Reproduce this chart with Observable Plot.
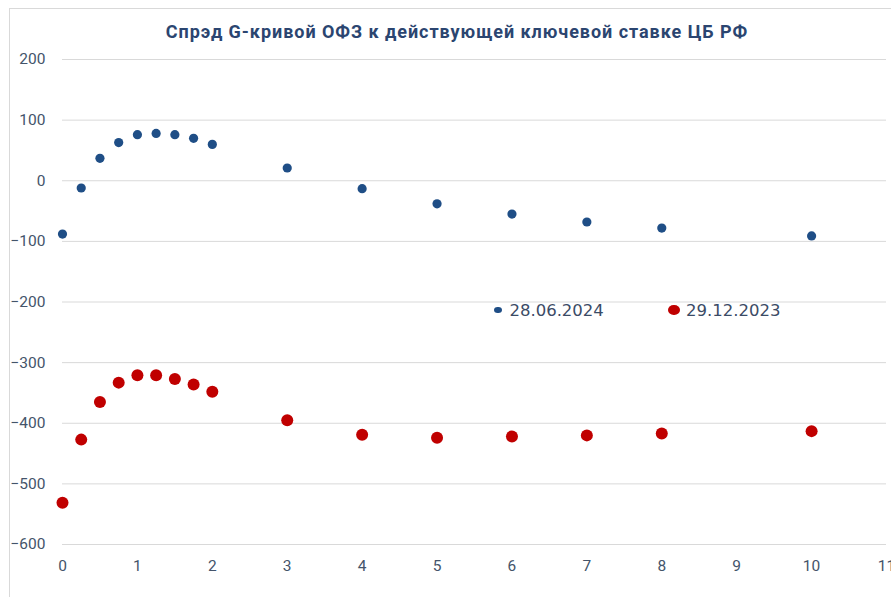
<!DOCTYPE html>
<html><head><meta charset="utf-8">
<script src="https://cdn.jsdelivr.net/npm/d3@7"></script>
<script src="https://cdn.jsdelivr.net/npm/@observablehq/plot@0.6"></script>
<style>
html,body{margin:0;padding:0;background:#fff;}
body{width:891px;height:597px;overflow:hidden;position:relative;}
#frame{position:absolute;left:9px;top:8px;width:1000px;height:1000px;border-left:1px solid #d9d9d9;border-top:1px solid #d9d9d9;}
#chart{position:absolute;left:0;top:0;}
#title{position:absolute;left:0;width:914px;top:21px;text-align:center;font-family:Roboto;font-weight:bold;font-size:18px;letter-spacing:0.95px;color:#2b4570;white-space:nowrap;}
.leg{position:absolute;top:300px;height:20px;display:flex;align-items:center;font-family:"DejaVu Sans";font-size:16.5px;color:#3b4b66;white-space:nowrap;}
.leg i{display:inline-block;border-radius:50%;}
</style></head>
<body>
<div id="frame"></div>
<div id="chart"></div>
<div id="title">Спрэд G-кривой ОФЗ к действующей ключевой ставке ЦБ РФ</div>
<script>
const maturities = [0, 0.25, 0.5, 0.75, 1, 1.25, 1.5, 1.75, 2, 3, 4, 5, 6, 7, 8, 10];
const spread20240628 = [-88, -12, 37, 63, 76, 78, 76, 70, 60, 21, -13, -38, -55, -68, -78, -91];
const spread20231229 = [-531, -427, -365, -333, -321, -321, -327, -336, -348, -395, -419, -424, -422, -420, -417, -413];
const seriesNames = ["28.06.2024", "29.12.2023"];
const seriesColors = ["#1f4e86", "#c00000"];
const yTicks = [200, 100, 0, -100, -200, -300, -400, -500, -600];
const xTicks = [0, 1, 2, 3, 4, 5, 6, 7, 8, 9, 10, 11];

const blue = maturities.map((m, i) => ({m, v: spread20240628[i]}));
const red = maturities.map((m, i) => ({m, v: spread20231229[i]}));

const chart = Plot.plot({
  width: 891, height: 597,
  marginLeft: 62, marginRight: 5, marginTop: 59, marginBottom: 53,
  style: {fontFamily: "Roboto", fontSize: "15.5px", color: "#44546a", background: "transparent", overflow: "visible"},
  x: {domain: [0, 11], ticks: xTicks, tickSize: 0, tickPadding: 15, label: null},
  y: {domain: [-600, 200], ticks: yTicks, tickSize: 0, tickPadding: 17, label: null},
  marks: [
    Plot.ruleY(yTicks, {stroke: "#d9d9d9", strokeWidth: 1}),
    Plot.dot(red, {x: "m", y: "v", r: 6, fill: seriesColors[1], stroke: "none"}),
    Plot.dot(blue, {x: "m", y: "v", r: 4.6, fill: seriesColors[0], stroke: "none"})
  ]
});
document.getElementById("chart").append(chart);

const legPos = [[494, 4.2, 7], [668, 6, 6]];
seriesNames.forEach((name, i) => {
  const d = document.createElement("div");
  d.className = "leg";
  d.style.left = legPos[i][0] + "px";
  const r = legPos[i][1];
  d.innerHTML = `<i style="width:${2*r}px;height:${2*r-1.5}px;margin-right:${legPos[i][2]}px;background:${seriesColors[i]}"></i>${name}`;
  document.body.append(d);
});
</script>
</body></html>
